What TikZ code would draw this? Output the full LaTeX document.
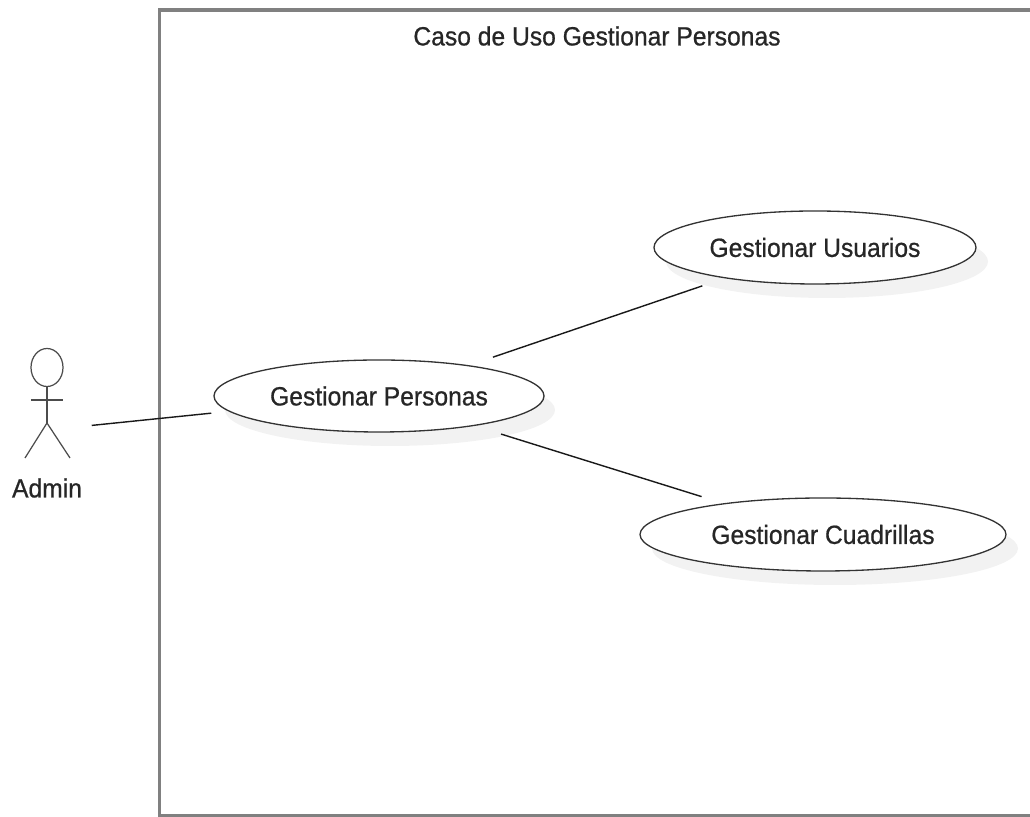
\documentclass[tikz,border=0pt]{standalone}
\usepackage{fontspec}
\setmainfont[FakeStretch=0.935,FakeBold=0.7]{Liberation Sans}
\usetikzlibrary{shapes.geometric}
\begin{document}
\begin{tikzpicture}
        \tikzstyle{every node}=[font=\fontsize{15}{17}\selectfont, text=black!85]
        \tikzstyle{usecase}=[ellipse, draw=black!80, fill=white, line width=0.75pt, inner sep=0pt]
        \tikzstyle{sombra}=[ellipse, fill=black!5, draw=none, inner sep=0pt]
        \tikzstyle{edge}=[black!90, line width=0.8pt]
        \tikzstyle{figura}=[black!70, line width=0.7pt]
        \useasboundingbox (0,0) rectangle (20.6,16.34);

        % marco
        \draw[black!50, line width=1.8pt] (21,16.14) -- (3.19,16.14) -- (3.19,0.02) -- (21,0.02);
        \node (titulo) at (11.94,15.62) {Caso de Uso Gestionar Personas};

        % sombras
        \node[sombra, minimum width=6.6cm, minimum height=1.44cm] (sombra1) at (7.80,8.14) {};
        \node[sombra, minimum width=6.44cm, minimum height=1.46cm] (sombra2) at (16.54,11.11) {};
        \node[sombra, minimum width=7.32cm, minimum height=1.46cm] (sombra3) at (16.70,5.37) {};

        % casos de uso
        \node[usecase, minimum width=6.6cm, minimum height=1.44cm] (personas) at (7.58,8.42) {Gestionar Personas};
        \node[usecase, minimum width=6.44cm, minimum height=1.46cm] (usuarios) at (16.30,11.39) {Gestionar Usuarios};
        \node[usecase, minimum width=7.32cm, minimum height=1.46cm] (cuadrillas) at (16.46,5.65) {Gestionar Cuadrillas};

        % actor
        \node[ellipse, draw=black!70, line width=0.7pt, minimum width=0.64cm, minimum height=0.76cm, inner sep=0pt] (cabeza) at (0.94,8.99) {};
        \node (admin) at (0.94,6.58) {Admin};
        \coordinate (cadera) at (0.94,7.88);
        \coordinate (brazoi) at (0.62,8.34);
        \coordinate (brazod) at (1.26,8.34);
        \coordinate (piei) at (0.50,7.18);
        \coordinate (pied) at (1.40,7.18);
        \coordinate (actor) at (0.94,7.74);
        \draw[figura] (cabeza) -- (cadera);
        \draw[figura] (brazoi) -- (brazod);
        \draw[figura] (piei) -- (cadera) -- (pied);

        \draw[edge, shorten <=0.9cm, shorten >=0.35cm] (actor) -- (personas);
        \draw[edge, shorten <=0.5cm, shorten >=0.47cm] (personas) -- (usuarios);
        \draw[edge, shorten <=0.55cm, shorten >=0.45cm] (personas) -- (cuadrillas);
\end{tikzpicture}
\end{document}
